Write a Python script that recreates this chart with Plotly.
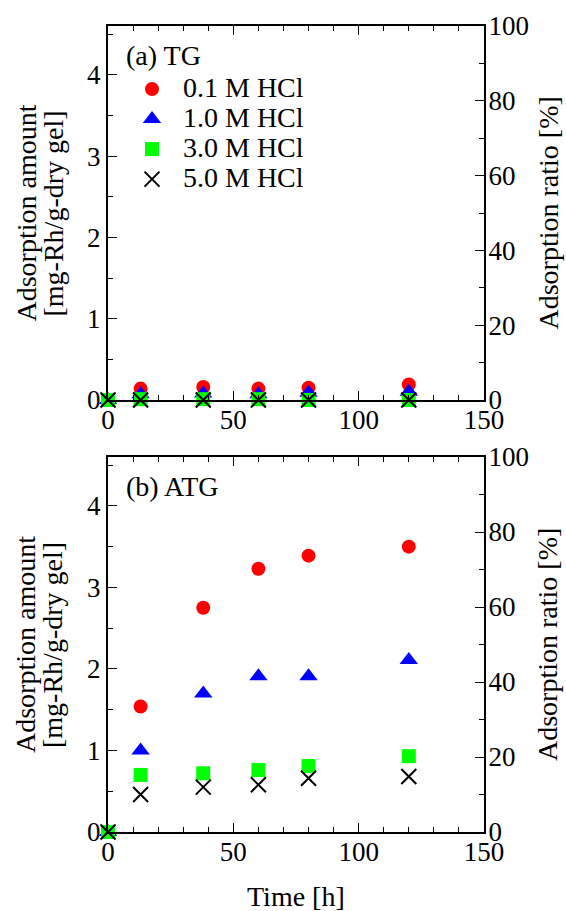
import plotly.graph_objects as go

# ---------------- data ----------------
time_h = [0, 13, 38, 60, 80, 120]
x_ticks = [0, 50, 100, 150]

series_names = ["0.1 M HCl", "1.0 M HCl", "3.0 M HCl", "5.0 M HCl"]

# (a) TG
tg_01 = [0, 0.14, 0.16, 0.14, 0.15, 0.19]
tg_10 = [0, 0.07, 0.08, 0.07, 0.09, 0.10]
tg_30 = [0, 0.01, 0.01, 0.01, 0.00, 0.00]
tg_50 = [0, 0.00, 0.00, 0.00, 0.00, 0.00]

# (b) ATG
atg_01 = [0, 1.54, 2.75, 3.23, 3.39, 3.50]
atg_10 = [0, 1.00, 1.70, 1.91, 1.91, 2.11]
atg_30 = [0, 0.70, 0.72, 0.76, 0.81, 0.93]
atg_50 = [0, 0.46, 0.55, 0.58, 0.66, 0.68]

# ---------------- styles ----------------
FONT = "Liberation Serif, Times New Roman, Times, serif"
styles = [
    dict(symbol="circle", color="#ff0000", size=14, line=dict(width=0)),
    dict(symbol="triangle-up", color="#0000ff", size=16, line=dict(width=0)),
    dict(symbol="square", color="#00ff00", size=14, line=dict(width=0)),
    dict(symbol="x-thin", color="#000000", size=15, line=dict(width=2, color="#000000")),
]

fig = go.Figure()

for ys, xa, ya, show in [((tg_01, tg_10, tg_30, tg_50), "x", "y", True),
                         ((atg_01, atg_10, atg_30, atg_50), "x2", "y2", False)]:
    for name, y, st in zip(series_names, ys, styles):
        fig.add_trace(go.Scatter(
            x=time_h, y=y, mode="markers", name='<span style="font-size:28px">' + name + '</span>',
            marker=st, xaxis=xa, yaxis=ya, showlegend=show, cliponaxis=False,
        ))

# empty traces to register right-hand axes
fig.add_trace(go.Scatter(x=[], y=[], xaxis="x", yaxis="y3", showlegend=False))
fig.add_trace(go.Scatter(x=[], y=[], xaxis="x2", yaxis="y4", showlegend=False))

tickfont = dict(family=FONT, size=27, color="black")
common = dict(showgrid=False, zeroline=False, showline=True, linecolor="black",
              linewidth=2, ticks="inside", tickcolor="black", tickwidth=1.2,
              tickfont=tickfont)

top_dom = [432 / 806, 1.0]
bot_dom = [0.0, 375 / 806]

xcommon = dict(common, range=[0, 150], tickvals=x_ticks, ticklen=9, mirror="ticks",
               ticklabelstandoff=-5,
               minor=dict(dtick=10, ticks="inside", ticklen=5, tickcolor="black", tickwidth=1.2))
ymin = dict(dtick=0.5, ticks="inside", ticklen=5, tickcolor="black", tickwidth=1.2)
rmin = dict(dtick=10, ticks="inside", ticklen=5, tickcolor="black", tickwidth=1.2)
fig.update_layout(
    xaxis=dict(xcommon, domain=[0, 1], anchor="y"),
    xaxis2=dict(xcommon, domain=[0, 1], anchor="y2"),
    yaxis=dict(common, range=[0, 4.6], dtick=1, ticklen=9, domain=top_dom, anchor="x", minor=ymin),
    yaxis2=dict(common, range=[0, 4.6], dtick=1, ticklen=9, domain=bot_dom, anchor="x2", minor=ymin),
    yaxis3=dict(common, range=[0, 100], dtick=20, ticklen=9, overlaying="y", side="right",
                anchor="x", ticklabelstandoff=-3, minor=rmin),
    yaxis4=dict(common, range=[0, 100], dtick=20, ticklen=9, overlaying="y2", side="right",
                anchor="x2", ticklabelstandoff=-3, minor=rmin),
)

tfont = dict(family=FONT, size=28, color="black")
ann = []
for yref, label in [("y domain", "(a) TG"), ("y2 domain", "(b) ATG")]:
    ann.append(dict(text=label, xref="paper", yref=yref, x=(124 - 108) / 376, y=0.922,
                    xanchor="left", yanchor="middle", showarrow=False, font=tfont))
    ann.append(dict(text="Adsorption amount", xref="paper", yref=yref, x=(25.5 - 108) / 376, y=0.5,
                    xanchor="center", yanchor="middle", textangle=-90, showarrow=False, font=tfont))
    ann.append(dict(text="[mg-Rh/g-dry gel]", xref="paper", yref=yref, x=(52.5 - 108) / 376, y=0.5,
                    xanchor="center", yanchor="middle", textangle=-90, showarrow=False, font=tfont))
    ann.append(dict(text="Adsorption ratio [%]", xref="paper", yref=yref, x=(547.5 - 108) / 376, y=0.5,
                    xanchor="center", yanchor="middle", textangle=-90, showarrow=False, font=tfont))
ann.append(dict(text="Time [h]", xref="paper", yref="paper", x=0.5, y=(832 - 896) / 806,
                xanchor="center", yanchor="middle", showarrow=False, font=tfont))

fig.update_layout(
    width=566, height=911,
    margin=dict(l=108, r=82, t=26, b=79),
    paper_bgcolor="white", plot_bgcolor="white",
    font=dict(family=FONT, color="black"),
    annotations=ann,
    legend=dict(x=(121 - 108) / 376, y=(832 - 69) / 806, xanchor="left", yanchor="top",
                bgcolor="rgba(0,0,0,0)", borderwidth=0, itemwidth=52,
                font=dict(family=FONT, size=20.8, color="black")),
)

fig.write_html("out.html", config={"displayModeBar": False},
               post_script="document.body.style.margin='0px';")
